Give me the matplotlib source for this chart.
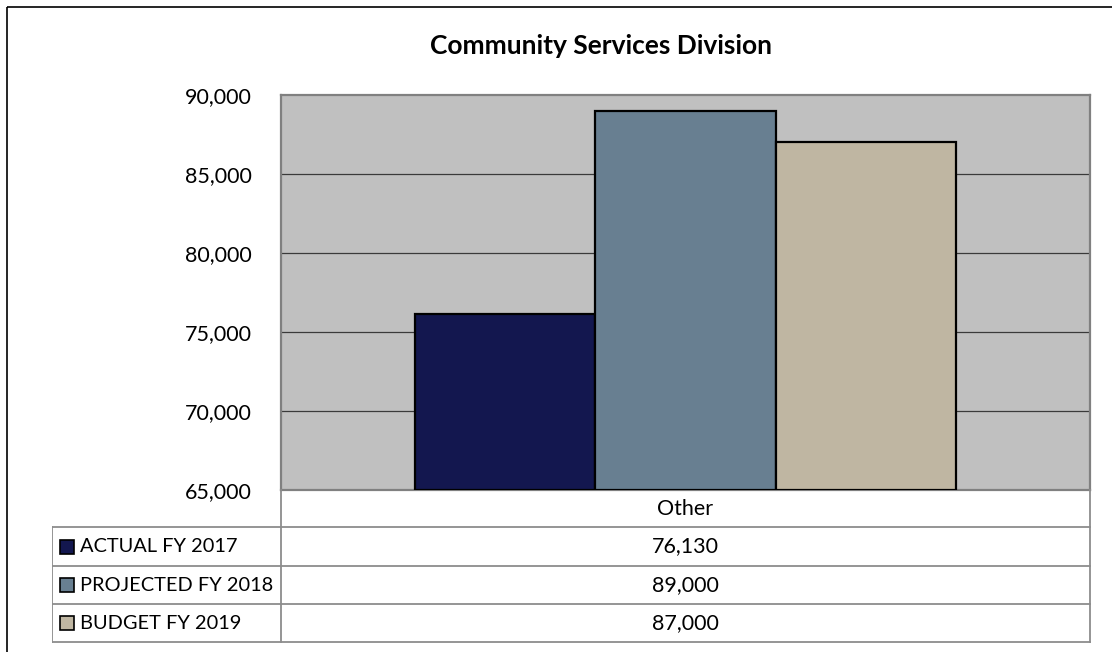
import matplotlib
matplotlib.use("Agg")
import matplotlib.pyplot as plt
from matplotlib.patches import Rectangle

# Chart values
category = "Other"
series = ["ACTUAL FY 2017", "PROJECTED FY 2018", "BUDGET FY 2019"]
values = [76130, 89000, 87000]
colors = ["#13174F", "#687F91", "#BFB6A2"]
y_ticks = [65000, 70000, 75000, 80000, 85000, 90000]

W, H = 1112, 652
plt.rcParams["font.family"] = ["Lato", "DejaVu Sans"]
FS = 15.5

fig = plt.figure(figsize=(W / 100, H / 100), dpi=100)


def px_box(x0, y0, x1, y1):
    # pixel box (top-left origin) -> figure fraction rect
    return [x0 / W, (H - y1) / H, (x1 - x0) / W, (y1 - y0) / H]


# outer chart border (runs off the right and bottom edges)
frame = fig.add_axes([0, 0, 1, 1])
frame.set_xlim(0, W)
frame.set_ylim(H, 0)
frame.axis("off")
frame.add_patch(Rectangle((7, 7), W + 50, H + 50, fill=False, edgecolor="black", lw=1.2))

fig.text(601 / W, 1 - 46 / H, "Community Services Division", ha="center", va="center",
         fontsize=19, fontweight="bold")

# plot area
ax = fig.add_axes(px_box(281, 95, 1090, 490))
ax.set_facecolor("#C0C0C0")
ax.set_xlim(-0.5, 0.5)
ax.set_ylim(y_ticks[0], y_ticks[-1])
ax.set_yticks(y_ticks)
ax.set_yticklabels([f"{t:,}" for t in y_ticks], fontsize=FS)
ax.tick_params(axis="y", length=0, pad=21)
ax.set_xticks([])
for t in y_ticks[1:-1]:
    ax.axhline(t, color="#3A3A3A", lw=0.9, zorder=1)
for s in ax.spines.values():
    s.set_color("#808080")
    s.set_linewidth(1.6)

bar_w = 0.2225
offsets = [-bar_w, 0, bar_w]
for off, v, c in zip(offsets, values, colors):
    ax.bar(off, v - y_ticks[0], bottom=y_ticks[0], width=bar_w, color=c,
           edgecolor="black", linewidth=1.6, zorder=3)

# data table under the plot
tab = fig.add_axes(px_box(52, 488, 1092, 644))
tab.set_xlim(52, 1092)
tab.set_ylim(644, 488)
tab.axis("off")
grid_c = "#8C8C8C"
lw_t = 1.3
x_left, x_mid, x_right = 52, 281, 1090
rows_y = [490, 527, 566, 604, 642]

tab.plot([x_mid, x_mid], [rows_y[0], rows_y[-1]], color=grid_c, lw=lw_t)
tab.plot([x_right, x_right], [rows_y[0], rows_y[-1]], color=grid_c, lw=lw_t)
tab.plot([x_left, x_left], [rows_y[1], rows_y[-1]], color=grid_c, lw=lw_t)
for y in rows_y[1:]:
    tab.plot([x_left, x_right], [y, y], color=grid_c, lw=lw_t)

mid_x = (x_mid + x_right) / 2
tab.text(mid_x, (rows_y[0] + rows_y[1]) / 2, category, ha="center", va="center", fontsize=FS)
for i, (name, v, c) in enumerate(zip(series, values, colors)):
    yc = (rows_y[i + 1] + rows_y[i + 2]) / 2
    tab.add_patch(Rectangle((60, yc - 7), 14, 14, facecolor=c, edgecolor="black", lw=1.2))
    tab.text(80, yc, name, ha="left", va="center", fontsize=14.4)
    tab.text(mid_x, yc, f"{v:,}", ha="center", va="center", fontsize=FS)

fig.savefig("out.png", dpi=100)
